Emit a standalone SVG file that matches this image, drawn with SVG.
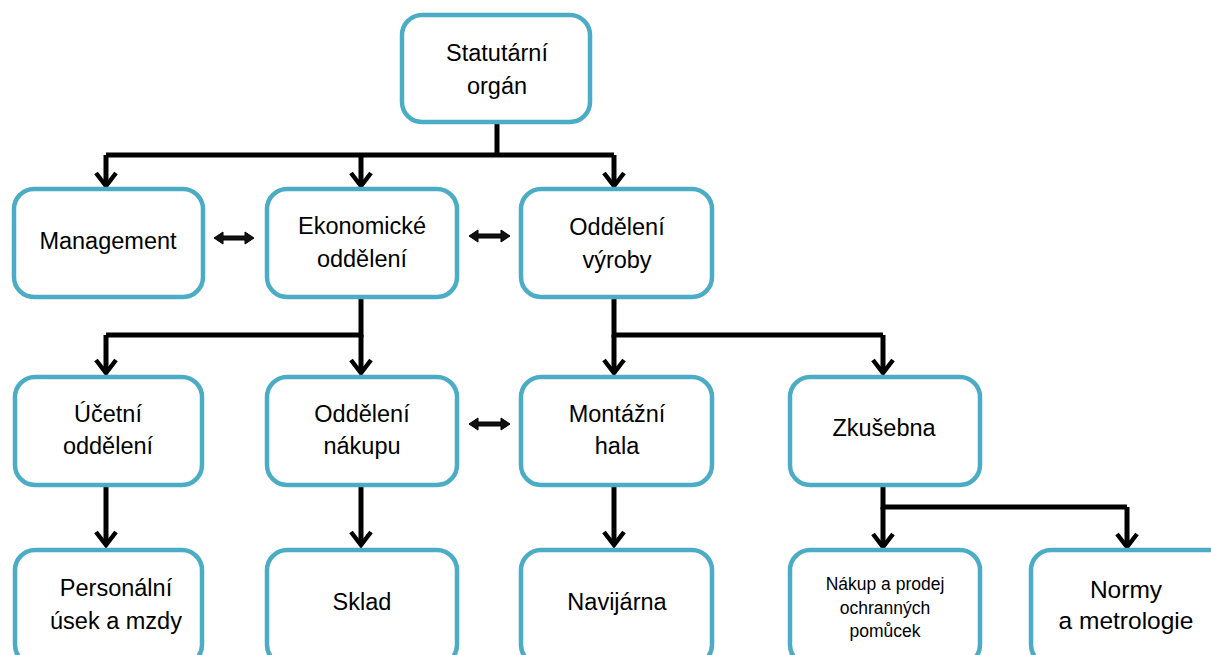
<svg xmlns="http://www.w3.org/2000/svg" width="1211" height="655" viewBox="0 0 1211 655">
<style>
.box{fill:#fff;stroke:#4BACC6;stroke-width:4.5}
.t{font-family:"Liberation Sans",Arial,sans-serif;font-size:23.5px;fill:#000;text-anchor:middle}
.s{font-size:17.5px}
.l{font-size:24.5px}
.c{fill:none;stroke:#000;stroke-width:5;stroke-linejoin:miter}
.d{fill:#111;stroke:#000;stroke-width:1}
</style>
<defs>
<marker id="ah" viewBox="0 0 24 22" refX="12" refY="19" markerWidth="24" markerHeight="22" markerUnits="userSpaceOnUse" orient="0">
<path d="M2,6 L12,19 L22,6" fill="none" stroke="#000" stroke-width="4.5"/>
</marker>
</defs>
<rect width="1211" height="655" fill="#fff"/>
<g id="connectors">
<path class="c" d="M497,122 V155"/>
<path class="c" d="M106,155 H614"/>
<path class="c" d="M106,155 V186" marker-end="url(#ah)"/>
<path class="c" d="M361,155 V186" marker-end="url(#ah)"/>
<path class="c" d="M614,155 V186" marker-end="url(#ah)"/>
<path class="c" d="M361,298 V335 H106"/>
<path class="c" d="M106,335 V373" marker-end="url(#ah)"/>
<path class="c" d="M361,335 V373" marker-end="url(#ah)"/>
<path class="c" d="M614,298 V335 H883"/>
<path class="c" d="M614,335 V373" marker-end="url(#ah)"/>
<path class="c" d="M883,335 V373" marker-end="url(#ah)"/>
<path class="c" d="M106,486 V545" marker-end="url(#ah)"/>
<path class="c" d="M361,486 V545" marker-end="url(#ah)"/>
<path class="c" d="M614,486 V545" marker-end="url(#ah)"/>
<path class="c" d="M883,486 V507 H1127"/>
<path class="c" d="M883,507 V547" marker-end="url(#ah)"/>
<path class="c" d="M1127,507 V547" marker-end="url(#ah)"/>
<polygon class="d" points="214,238 223,232 223,236 245,236 245,232 254,238 245,244 245,240 223,240 223,244"/>
<polygon class="d" points="469,236 478,230 478,234 501,234 501,230 510,236 501,242 501,238 478,238 478,242"/>
<polygon class="d" points="469,424 478,418 478,422 501,422 501,418 510,424 501,430 501,426 478,426 478,430"/>
</g>
<g id="n-statutarni"><rect class="box" x="402" y="15" width="188" height="107" rx="20"/><text class="t" x="497" y="61">Statutární</text><text class="t" x="497" y="94">orgán</text></g>
<g id="n-management"><rect class="box" x="14" y="189" width="189" height="108" rx="20"/><text class="t" x="108" y="249">Management</text></g>
<g id="n-ekonomicke"><rect class="box" x="267" y="189" width="190" height="108" rx="20"/><text class="t" x="362" y="234">Ekonomické</text><text class="t" x="362" y="267">oddělení</text></g>
<g id="n-vyroby"><rect class="box" x="521" y="189" width="191" height="108" rx="20"/><text class="t" x="617" y="235">Oddělení</text><text class="t" x="617" y="268">výroby</text></g>
<g id="n-ucetni"><rect class="box" x="15" y="377" width="187" height="108" rx="20"/><text class="t" x="108" y="422">Účetní</text><text class="t" x="108" y="454">oddělení</text></g>
<g id="n-nakupu"><rect class="box" x="267" y="377" width="190" height="108" rx="20"/><text class="t" x="362" y="422">Oddělení</text><text class="t" x="362" y="454">nákupu</text></g>
<g id="n-montazni"><rect class="box" x="521" y="377" width="191" height="108" rx="20"/><text class="t" x="617" y="422">Montážní</text><text class="t" x="617" y="454">hala</text></g>
<g id="n-zkusebna"><rect class="box" x="790" y="377" width="190" height="108" rx="20"/><text class="t" x="884" y="436">Zkušebna</text></g>
<g id="n-personalni"><rect class="box" x="15" y="550" width="187" height="115" rx="20"/><text class="t" x="116" y="596">Personální</text><text class="t" x="116" y="629">úsek a mzdy</text></g>
<g id="n-sklad"><rect class="box" x="267" y="550" width="190" height="115" rx="20"/><text class="t" x="362" y="610">Sklad</text></g>
<g id="n-navijarna"><rect class="box" x="521" y="550" width="191" height="115" rx="20"/><text class="t" x="617" y="610">Navijárna</text></g>
<g id="n-nakup-prodej"><rect class="box" x="790" y="550" width="190" height="115" rx="20"/><text class="t s" x="885" y="590">Nákup a prodej</text><text class="t s" x="885" y="614">ochranných</text><text class="t s" x="885" y="637">pomůcek</text></g>
<g id="n-normy"><rect class="box" x="1031" y="550" width="200" height="115" rx="20"/><text class="t l" x="1126" y="598">Normy</text><text class="t l" x="1126" y="629">a metrologie</text></g>
</svg>
